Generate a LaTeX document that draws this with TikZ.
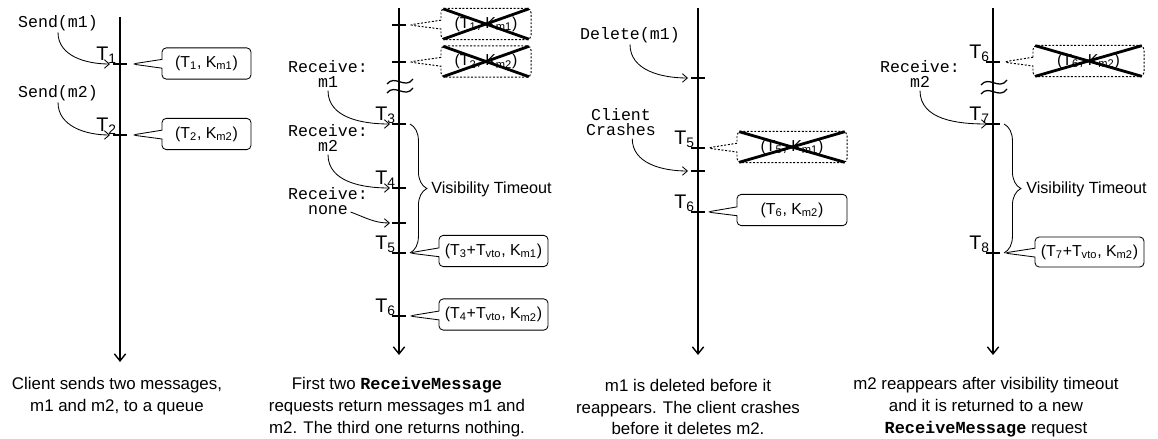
\documentclass[tikz,border=0pt]{standalone}
\usepackage{fontspec}
\setmainfont{Liberation Sans}
\setmonofont{Liberation Mono}
\usepackage{tikz}
\usetikzlibrary{positioning,arrows.meta,shapes.callouts,decorations.pathreplacing}
\newcommand{\tsub}[1]{T\textsubscript{#1}}
\newcommand{\ksub}[1]{K\textsubscript{#1}}
\tikzstyle{timeaxis}=[line width=1.3pt, -{Straight Barb[length=5pt,width=8pt,line width=1pt]}]
\tikzstyle{tickline}=[line width=1.3pt]
\tikzstyle{callarr}=[line width=0.6pt, -{Straight Barb[length=3.5pt,width=6pt]}]
\tikzstyle{cmdtext}=[font=\fontsize{11.8}{10.6}\selectfont\ttfamily, align=center, inner sep=0pt]
\tikzstyle{tlabel}=[font=\fontsize{14}{14}\selectfont, anchor=south east, inner sep=0pt]
\tikzstyle{kbox}=[rectangle callout, draw, line width=0.6pt, rounded corners=3pt, minimum height=0.78cm, inner sep=2pt, callout pointer width=0.22cm, font=\fontsize{11.3}{12}\selectfont]
\tikzstyle{gonebox}=[kbox, line width=0.7pt, dash pattern=on 1.4pt off 1.2pt]
\tikzstyle{xline}=[line width=2pt, shorten <=2pt, shorten >=2pt]
\tikzstyle{capt}=[font=\fontsize{12}{15.5}\selectfont, align=center]
\tikzstyle{vtotext}=[font=\fontsize{11.5}{12}\selectfont, anchor=west, inner sep=0pt]
\tikzstyle{vbrace}=[decorate, decoration={brace, amplitude=12pt}, line width=0.6pt]
\tikzstyle{brk}=[line width=0.9pt]

\begin{document}
\begin{tikzpicture}[x=0.025cm,y=-0.025cm]
\useasboundingbox (0,0) rectangle (1158,439);

% ---- client sends two messages
\coordinate (top1) at (120,17);
\coordinate (bot1) at (120,362);
\draw[timeaxis] (top1) -- (bot1);
\foreach \y in {64,135} \draw[tickline] (113,\y) -- (127,\y);
\node[tlabel] at (117,64) {\tsub{1}};
\node[tlabel] at (117,135) {\tsub{2}};

\node[cmdtext] (send1) at (58,23) {Send(m1)};
\node[cmdtext] (send2) at (58,93) {Send(m2)};
\coordinate (in11) at (110,64);
\coordinate (in12) at (110,135);
\draw[callarr] ([yshift=-1pt]send1.south) to[out=-90,in=180] (in11);
\draw[callarr] ([yshift=-1pt]send2.south) to[out=-90,in=180] (in12);

\coordinate (p11) at (132,64);
\coordinate (p12) at (132,135);
\node[kbox, minimum width=2.225cm, callout absolute pointer={(p11)}] (k11) at (206.5,63.5) {(\tsub{1}, \ksub{m1})};
\node[kbox, minimum width=2.225cm, callout absolute pointer={(p12)}] (k12) at (206.5,134) {(\tsub{2}, \ksub{m2})};

\node[capt] (cap1) at (117,396) {Client sends two messages,\\m1 and m2, to a queue};

% ---- two receives, third one empty
\coordinate (top2) at (399,8);
\coordinate (bot2) at (399,355);
\draw[timeaxis] (top2) -- (bot2);
\foreach \y in {25,62,124,188,223,253,316} \draw[tickline] (392,\y) -- (406,\y);
\draw[brk] (387,84) .. controls (395,74) and (405,90) .. (413,79);
\draw[brk] (387,93) .. controls (395,83) and (405,99) .. (413,88);

\coordinate (p21) at (409,25);
\coordinate (p22) at (409,62);
\node[gonebox, minimum width=2.25cm, callout absolute pointer={(p21)}] (c21) at (486,24) {(\tsub{1}, \ksub{m1})};
\node[gonebox, minimum width=2.25cm, callout absolute pointer={(p22)}] (c22) at (486,61.5) {(\tsub{2}, \ksub{m2})};
\draw[xline] (c21.north west) -- (c21.south east);
\draw[xline] (c21.south west) -- (c21.north east);
\draw[xline] (c22.north west) -- (c22.south east);
\draw[xline] (c22.south west) -- (c22.north east);

\node[cmdtext] (rcv21) at (328,74) {Receive:\\m1};
\node[cmdtext] (rcv22) at (328,138) {Receive:\\m2};
\node[cmdtext] (rcv23) at (328,201) {Receive:\\none};
\coordinate (in23) at (390,124);
\coordinate (in24) at (390,188);
\coordinate (in25) at (390,223);
\draw[callarr] ([yshift=-2pt]rcv21.south) to[out=-90,in=180] (in23);
\draw[callarr] ([yshift=-2pt]rcv22.south) to[out=-90,in=180] (in24);
\draw[callarr] ([xshift=16pt,yshift=2pt]rcv23.south) to[out=-20,in=180] (in25);

\node[tlabel] at (396,124) {\tsub{3}};
\node[tlabel] at (396,188) {\tsub{4}};
\node[tlabel] at (396,253) {\tsub{5}};
\node[tlabel] at (396,316) {\tsub{6}};

\coordinate (b21) at (410,124);
\coordinate (b22) at (410,253);
\draw[vbrace] (b21) -- (b22);
\node[vtotext] (vto2) at (431,189) {Visibility Timeout};

\coordinate (p23) at (409,253);
\coordinate (p24) at (409,316);
\node[kbox, minimum width=2.725cm, callout absolute pointer={(p23)}] (k23) at (493.5,251) {(\tsub{3}+\tsub{vto}, \ksub{m1})};
\node[kbox, minimum width=2.725cm, callout absolute pointer={(p24)}] (k24) at (493.5,314.5) {(\tsub{4}+\tsub{vto}, \ksub{m2})};

\node[capt] (cap2) at (397,407) {First two \texttt{\bfseries ReceiveMessage}\\requests return messages m1 and\\m2. The third one returns nothing.};

% ---- delete m1, then crash
\coordinate (top3) at (698,8);
\coordinate (bot3) at (698,355);
\draw[timeaxis] (top3) -- (bot3);
\foreach \y in {78,148,171,212} \draw[tickline] (691,\y) -- (705,\y);

\node[cmdtext] (del3) at (630,35) {Delete(m1)};
\node[cmdtext] (crash3) at (621,122) {Client\\Crashes};
\coordinate (in31) at (688,78);
\coordinate (in32) at (688,171);
\draw[callarr] ([yshift=-1pt]del3.south) to[out=-90,in=180] (in31);
\draw[callarr] ([xshift=8pt,yshift=-2pt]crash3.south) to[out=-90,in=180] (in32);

\node[tlabel] at (695,148) {\tsub{5}};
\node[tlabel] at (695,212) {\tsub{6}};

\coordinate (p31) at (707,148);
\coordinate (p32) at (707,212);
\node[gonebox, minimum width=2.75cm, callout absolute pointer={(p31)}] (c31) at (792,147) {(\tsub{5}, \ksub{m1})};
\draw[xline] (c31.north west) -- (c31.south east);
\draw[xline] (c31.south west) -- (c31.north east);
\node[kbox, minimum width=2.75cm, callout absolute pointer={(p32)}] (k32) at (792,210) {(\tsub{6}, \ksub{m2})};

\node[capt] (cap3) at (688,407) {m1 is deleted before it\\reappears. The client crashes\\before it deletes m2.};

% ---- m2 comes back
\coordinate (top4) at (993,8);
\coordinate (bot4) at (993,355);
\draw[timeaxis] (top4) -- (bot4);
\foreach \y in {62,124,253} \draw[tickline] (986,\y) -- (1000,\y);
\draw[brk] (981,85) .. controls (989,75) and (999,91) .. (1007,80);
\draw[brk] (981,94) .. controls (989,84) and (999,100) .. (1007,89);

\node[tlabel] at (990,62) {\tsub{6}};
\coordinate (p41) at (1003,62);
\node[gonebox, minimum width=2.775cm, callout absolute pointer={(p41)}] (c41) at (1088.5,61) {(\tsub{6}, \ksub{m2})};
\draw[xline] (c41.north west) -- (c41.south east);
\draw[xline] (c41.south west) -- (c41.north east);

\node[cmdtext] (rcv41) at (920,74) {Receive:\\m2};
\coordinate (in41) at (987,124);
\draw[callarr] ([yshift=-2pt]rcv41.south) to[out=-90,in=180] (in41);

\node[tlabel] at (990,124) {\tsub{7}};
\node[tlabel] at (990,253) {\tsub{8}};

\coordinate (b41) at (1004,124);
\coordinate (b42) at (1004,253);
\draw[vbrace] (b41) -- (b42);
\node[vtotext] (vto4) at (1026,189) {Visibility Timeout};

\coordinate (p42) at (1004,253);
\node[kbox, minimum width=2.725cm, minimum height=0.75cm, callout absolute pointer={(p42)}] (k42) at (1089.5,252) {(\tsub{7}+\tsub{vto}, \ksub{m2})};

\node[capt] (cap4) at (986,407) {m2 reappears after visibility timeout\\and it is returned to a new\\\texttt{\bfseries ReceiveMessage} request};
\end{tikzpicture}
\end{document}
